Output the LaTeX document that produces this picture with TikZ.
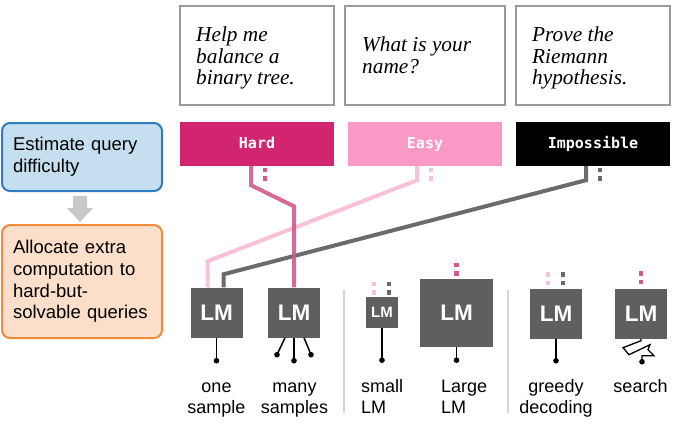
\documentclass[tikz,border=0pt]{standalone}
\usepackage{fontspec}
\setmainfont{Liberation Sans}
\newfontfamily\qfont{Liberation Serif}
\newfontfamily\labfont{DejaVu Sans Mono}
\usetikzlibrary{calc}
\definecolor{hardc}{HTML}{D1266F}
\definecolor{easyc}{HTML}{F899C6}
\definecolor{hardline}{HTML}{CF5A8C}
\definecolor{easyline}{HTML}{F7C1DA}
\definecolor{impline}{HTML}{6B6B6B}
\definecolor{lmgray}{HTML}{5F5F5F}
\definecolor{qgray}{HTML}{9A9A9A}
\definecolor{blueb}{HTML}{2C7EC0}
\definecolor{bluef}{HTML}{C5DFF0}
\definecolor{orangeb}{HTML}{F28B3A}
\definecolor{orangef}{HTML}{FCDFCA}
\definecolor{arrowgray}{HTML}{C8C8C8}
\definecolor{sepgray}{HTML}{D5D5D5}
\newcommand\sqdots[2]{\fill[#1] ($(#2)+(-2.25,-2.25)$) rectangle ++(4.5,4.5);
  \fill[#1] ($(#2)+(-2.25,6.25)$) rectangle ++(4.5,4.5);}
\begin{document}
\begin{tikzpicture}[x=1pt,y=-1pt,
  qbox/.style={draw=qgray,line width=2pt,minimum height=99,inner sep=0},
  qtext/.style={anchor=north west,inner sep=0,align=left,font=\qfont\itshape\fontsize{21.3}{21.3}\selectfont},
  tag/.style={minimum width=154,minimum height=44,inner sep=0,text=white,font=\labfont\bfseries\fontsize{15}{15}\selectfont,text height=11,text depth=3},
  lm/.style={fill=lmgray,text=white,inner sep=0,font=\bfseries\fontsize{22.5}{22.5}\selectfont},
  sidebox/.style={rounded corners=8pt,line width=2pt,inner xsep=11,inner ysep=0,text width=138,align=left,font=\fontsize{18.5}{21.7}\selectfont},
  caption/.style={inner sep=0,font=\fontsize{18}{21}\selectfont},
  conn/.style={line width=4pt},
  sample/.style={line width=1.5pt,black},
  sepline/.style={draw=sepgray,line width=2pt}
]
\useasboundingbox (0,0) rectangle (688,426);

% left side boxes
\node[sidebox,draw=blueb,fill=bluef,minimum height=68] (est) at (82,157) {Estimate query\\difficulty};
\node[sidebox,draw=orangeb,fill=orangef,minimum height=113] (alloc) at (82,281.5) {Allocate extra\\computation to\\hard-but-\\solvable queries};
\fill[arrowgray] ($(est.south)+(-9,4)$) -- ++(14,0) -- ++(0,12) -- ++(6,0) -- ++(-13,14) -- ++(-13,-14) -- ++(6,0) -- cycle;

% query boxes
\node[qbox,minimum width=154] (q1) at (257,55.5) {};
\node[qbox,minimum width=160] (q2) at (425,55.5) {};
\node[qbox,minimum width=154] (q3) at (593,55.5) {};
\node[qtext] (q1t) at (196,25.7) {\rule{0pt}{16pt}Help me\\balance a\\binary tree.};
\node[qtext] (q2t) at (362,35.5) {\rule{0pt}{16pt}What is your\\name?};
\node[qtext] (q3t) at (532,25.7) {\rule{0pt}{16pt}Prove the\\Riemann\\hypothesis.};

% difficulty tags
\node[tag,fill=hardc] (hard) at (257,144) {Hard};
\node[tag,fill=easyc] (easy) at (425,144) {Easy};
\node[tag,fill=black] (imp) at (593,144) {Impossible};

% LM boxes (those with incoming connectors are drawn after them)
\coordinate (lm1c) at (216.5,312.5);
\coordinate (lm2c) at (294,312.5);
\path (lm1c) node[minimum width=52,minimum height=50,inner sep=0] (lm1) {};
\path (lm2c) node[minimum width=52,minimum height=50,inner sep=0] (lm2) {};
\node[lm,minimum width=32,minimum height=31,font=\bfseries\fontsize{15}{15}\selectfont] (lms) at (382,312.5) {LM};
\node[lm,minimum width=73,minimum height=68] (lml) at (456.5,313) {LM};
\node[lm,minimum width=52,minimum height=50] (lmg) at (556,313.5) {LM};
\node[lm,minimum width=52,minimum height=50] (lmx) at (641,313.5) {LM};

% connectors
\draw[conn,easyline] ([xshift=-8pt]easy.south) -- ++(0,14) -- ($(lm1.north)+(-9,-26)$) -- ([xshift=-9pt]lm1.north);
\draw[conn,impline] ([xshift=-7pt]imp.south) -- ++(0,14) -- ($(lm1.north)+(7,-13)$) -- ([xshift=7pt]lm1.north);
\draw[conn,hardline,opacity=0.9] ([xshift=-6pt]hard.south) -- ++(0,19) -- ($(lm2.north)+(0,-81)$) -- (lm2.north);
\node[lm,minimum width=52,minimum height=50] (lm1box) at (lm1c) {LM};
\node[lm,minimum width=52,minimum height=50] (lm2box) at (lm2c) {LM};

% dots
\sqdots{hardline}{$(hard.south)+(8,4)$}
\sqdots{easyline}{$(easy.south)+(6,4)$}
\sqdots{impline}{$(imp.south)+(7,4)$}
\sqdots{easyline}{$(lms.north)+(-8,-13)$}
\sqdots{impline}{$(lms.north)+(7,-13)$}
\sqdots{hardline}{$(lml.north)+(0,-14)$}
\sqdots{easyline}{$(lmg.north)+(-8,-14)$}
\sqdots{impline}{$(lmg.north)+(7,-14)$}
\sqdots{hardline}{$(lmx.north)+(0,-15)$}

% samples
\coordinate (s1) at ($(lm1.south)+(0,23)$);
\draw[sample] (lm1.south) -- (s1); \fill (s1) circle (2.8);
\coordinate (s2a) at ($(lm2.south)+(-17,17)$);
\coordinate (s2b) at ($(lm2.south)+(0,23)$);
\coordinate (s2c) at ($(lm2.south)+(17,17)$);
\draw[sample] ($(lm2.south)+(-9,0)$) -- (s2a);
\draw[sample] (lm2.south) -- (s2b);
\draw[sample] ($(lm2.south)+(10,0)$) -- (s2c);
\fill (s2a) circle (2.8); \fill (s2b) circle (2.8); \fill (s2c) circle (2.8);
\coordinate (s3) at ($(lms.south)+(0,32)$);
\draw[sample] (lms.south) -- (s3); \fill (s3) circle (2.8);
\coordinate (s4) at ($(lml.south)+(0,13)$);
\draw[sample] (lml.south) -- (s4); \fill (s4) circle (2.8);
\coordinate (s5) at ($(lmg.south)+(0,22)$);
\draw[sample] (lmg.south) -- (s5); \fill (s5) circle (2.8);
\coordinate (s6) at ($(lmx.south)+(1,23)$);
\draw[line width=1.3pt,black,line join=miter] (lmx.south) -- ++(0,2) -- ++(-18,7) -- ++(6,7) -- ++(21,-10) -- ++(-2,5) -- ++(6,6) -- ++(-12,0) -- (s6);
\fill (s6) circle (2.8);

% separators
\draw[sepline] (344,290) -- (344,413);
\draw[sepline] (508,290) -- (508,413);

% captions
\node[caption,anchor=north,align=center] (c1) at (216.5,378) {\rule{0pt}{14pt}one\\sample};
\node[caption,anchor=north,align=center] (c2) at (294.5,378) {\rule{0pt}{14pt}many\\samples};
\node[caption,anchor=north west,align=left] (c3) at (361,378) {\rule{0pt}{14pt}small\\LM};
\node[caption,anchor=north west,align=left] (c4) at (441,378) {\rule{0pt}{14pt}Large\\LM};
\node[caption,anchor=north,align=center] (c5) at (556,378) {\rule{0pt}{14pt}greedy\\decoding};
\node[caption,anchor=north,align=center] (c6) at (640.5,378) {\rule{0pt}{14pt}search};
\end{tikzpicture}
\end{document}
